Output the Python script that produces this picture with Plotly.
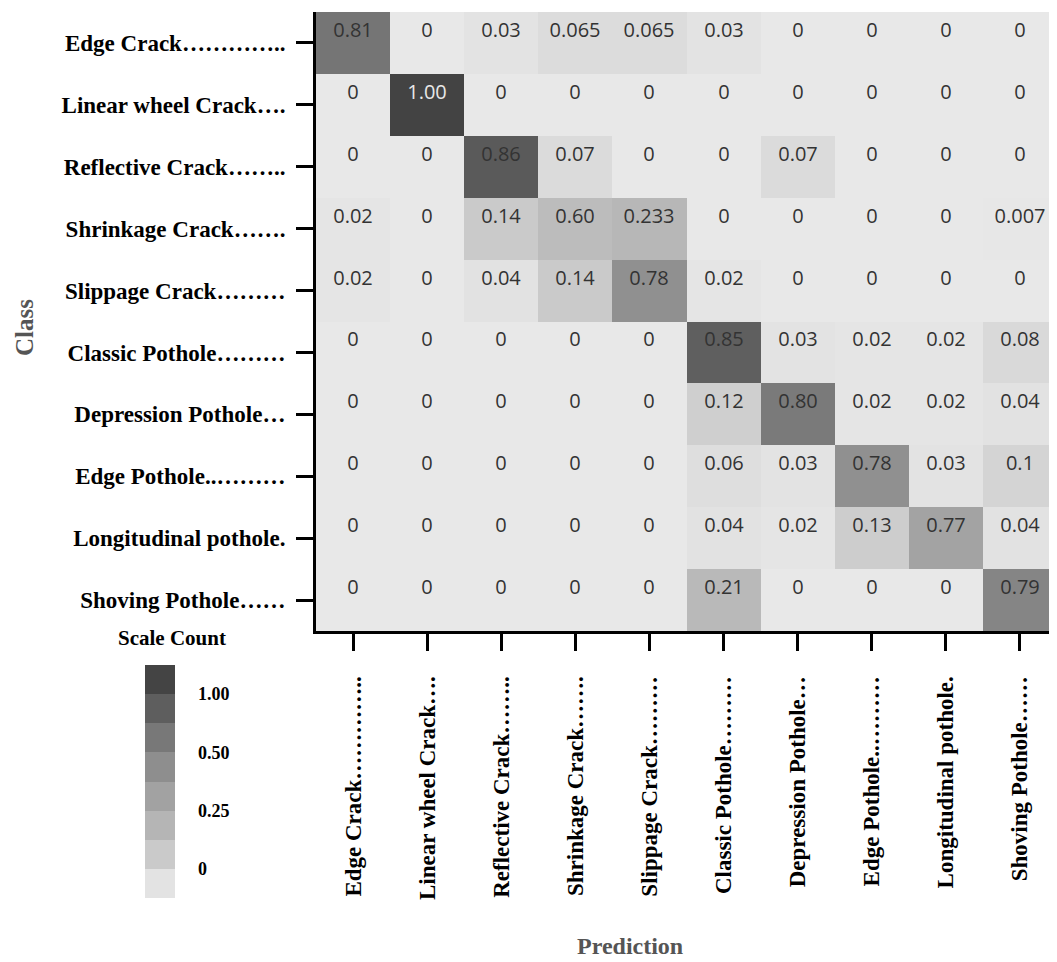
import plotly.graph_objects as go

# ---------------- data ----------------
classes = [
    "Edge Crack…………..",
    "Linear wheel Crack….",
    "Reflective Crack……..",
    "Shrinkage Crack…….",
    "Slippage Crack………",
    "Classic Pothole………",
    "Depression Pothole…",
    "Edge Pothole..………",
    "Longitudinal pothole.",
    "Shoving Pothole……",
]
predictions = list(classes)

row_edge_crack = ["0.81", "0", "0.03", "0.065", "0.065", "0.03", "0", "0", "0", "0"]
row_linear_wheel = ["0", "1.00", "0", "0", "0", "0", "0", "0", "0", "0"]
row_reflective = ["0", "0", "0.86", "0.07", "0", "0", "0.07", "0", "0", "0"]
row_shrinkage = ["0.02", "0", "0.14", "0.60", "0.233", "0", "0", "0", "0", "0.007"]
row_slippage = ["0.02", "0", "0.04", "0.14", "0.78", "0.02", "0", "0", "0", "0"]
row_classic = ["0", "0", "0", "0", "0", "0.85", "0.03", "0.02", "0.02", "0.08"]
row_depression = ["0", "0", "0", "0", "0", "0.12", "0.80", "0.02", "0.02", "0.04"]
row_edge_pothole = ["0", "0", "0", "0", "0", "0.06", "0.03", "0.78", "0.03", "0.1"]
row_longitudinal = ["0", "0", "0", "0", "0", "0.04", "0.02", "0.13", "0.77", "0.04"]
row_shoving = ["0", "0", "0", "0", "0", "0.21", "0", "0", "0", "0.79"]

scale_stops = [0.0, 0.05, 0.12, 0.22, 0.6, 0.77, 0.78, 0.80, 0.86, 1.0]
scale_grays = ["#e8e8e8", "#e0e0e0", "#cfcfcf", "#b7b7b7", "#bcbcbc",
               "#a3a3a3", "#909090", "#7a7a7a", "#5a5a5a", "#434343"]

legend_colors_bottom_up = ["#e3e3e3", "#cacaca", "#b5b5b5", "#a2a2a2",
                           "#8e8e8e", "#787878", "#5e5e5e", "#444444"]
legend_tick_labels = ["0", "0.25", "0.50", "1.00"]

# ---------------- build ----------------
rows = [row_edge_crack, row_linear_wheel, row_reflective, row_shrinkage, row_slippage,
        row_classic, row_depression, row_edge_pothole, row_longitudinal, row_shoving]
z = [[float(s) for s in r] for r in rows]
text = [[(f"<span style='color:#e8e8e8'>{s}</span>" if float(s) >= 0.95 else s) for s in r]
        for r in rows]

PAGE_W, PAGE_H = 1057, 962
OFF = 8  # default body margin of the html page
W, H = PAGE_W - OFF, PAGE_H - OFF


def px_x(v):
    return (v - OFF) / W


def px_y(v):
    return 1 - (v - OFF) / H


serif = "Liberation Serif, Times New Roman, serif"

fig = go.Figure()
fig.add_trace(go.Heatmap(
    z=z, x=predictions, y=classes, text=text,
    texttemplate="%{text}<br> ",
    textfont=dict(family="Open Sans, sans-serif", size=20, color="#333333"),
    colorscale=[[s, c] for s, c in zip(scale_stops, scale_grays)],
    zmin=0, zmax=1, showscale=False, hoverinfo="skip",
))

n_leg = len(legend_colors_bottom_up)
fig.add_trace(go.Heatmap(
    z=[[i] for i in range(n_leg)], x=[0], y=list(range(n_leg)),
    colorscale=[[i / (n_leg - 1), c] for i, c in enumerate(legend_colors_bottom_up)],
    zmin=0, zmax=n_leg - 1, showscale=False, hoverinfo="skip",
    xaxis="x2", yaxis="y2",
))

fig.update_layout(
    width=W, height=H,
    margin=dict(l=0, r=0, t=0, b=0),
    paper_bgcolor="white", plot_bgcolor="white",
    xaxis=dict(
        domain=[px_x(316), 1], anchor="y",
        tickangle=-90, ticks="outside", ticklen=17, tickwidth=3, tickcolor="black",
        showline=True, linewidth=3, linecolor="black", mirror=False,
        tickfont=dict(family=serif, size=23, color="black", weight="bold"),
        ticklabelstandoff=16, showgrid=False, zeroline=False, fixedrange=True,
    ),
    yaxis=dict(
        domain=[px_y(631), px_y(12)], anchor="x", autorange="reversed",
        ticks="outside", ticklen=17, tickwidth=3, tickcolor="black",
        showline=True, linewidth=3, linecolor="black",
        tickfont=dict(family=serif, size=23, color="black", weight="bold"),
        ticklabelstandoff=6, showgrid=False, zeroline=False, fixedrange=True,
    ),
    xaxis2=dict(
        domain=[px_x(145), px_x(175)], anchor="y2", showticklabels=False,
        ticks="", showline=False, showgrid=False, zeroline=False, fixedrange=True,
    ),
    yaxis2=dict(
        domain=[px_y(898), px_y(665)], anchor="x2", side="right",
        range=[-0.5, n_leg - 0.5],
        tickvals=[0.5, 2.5, 4.5, 6.5], ticktext=legend_tick_labels,
        ticks="", showline=False, showgrid=False, zeroline=False,
        tickfont=dict(family=serif, size=18, color="black", weight="bold"),
        ticklabelstandoff=22, fixedrange=True,
    ),
    annotations=[
        dict(text="<b>Scale Count</b>", x=px_x(172), y=px_y(638), xref="paper", yref="paper",
             showarrow=False, xanchor="center", yanchor="middle",
             font=dict(family=serif, size=21, color="black")),
        dict(text="<b>Class</b>", x=px_x(24), y=px_y(328), xref="paper", yref="paper",
             showarrow=False, xanchor="center", yanchor="middle", textangle=-90,
             font=dict(family=serif, size=25, color="#555555")),
        dict(text="<b>Prediction</b>", x=px_x(630), y=px_y(946), xref="paper", yref="paper",
             showarrow=False, xanchor="center", yanchor="middle",
             font=dict(family=serif, size=24, color="#555555")),
    ],
)

fig.write_html("out.html")
